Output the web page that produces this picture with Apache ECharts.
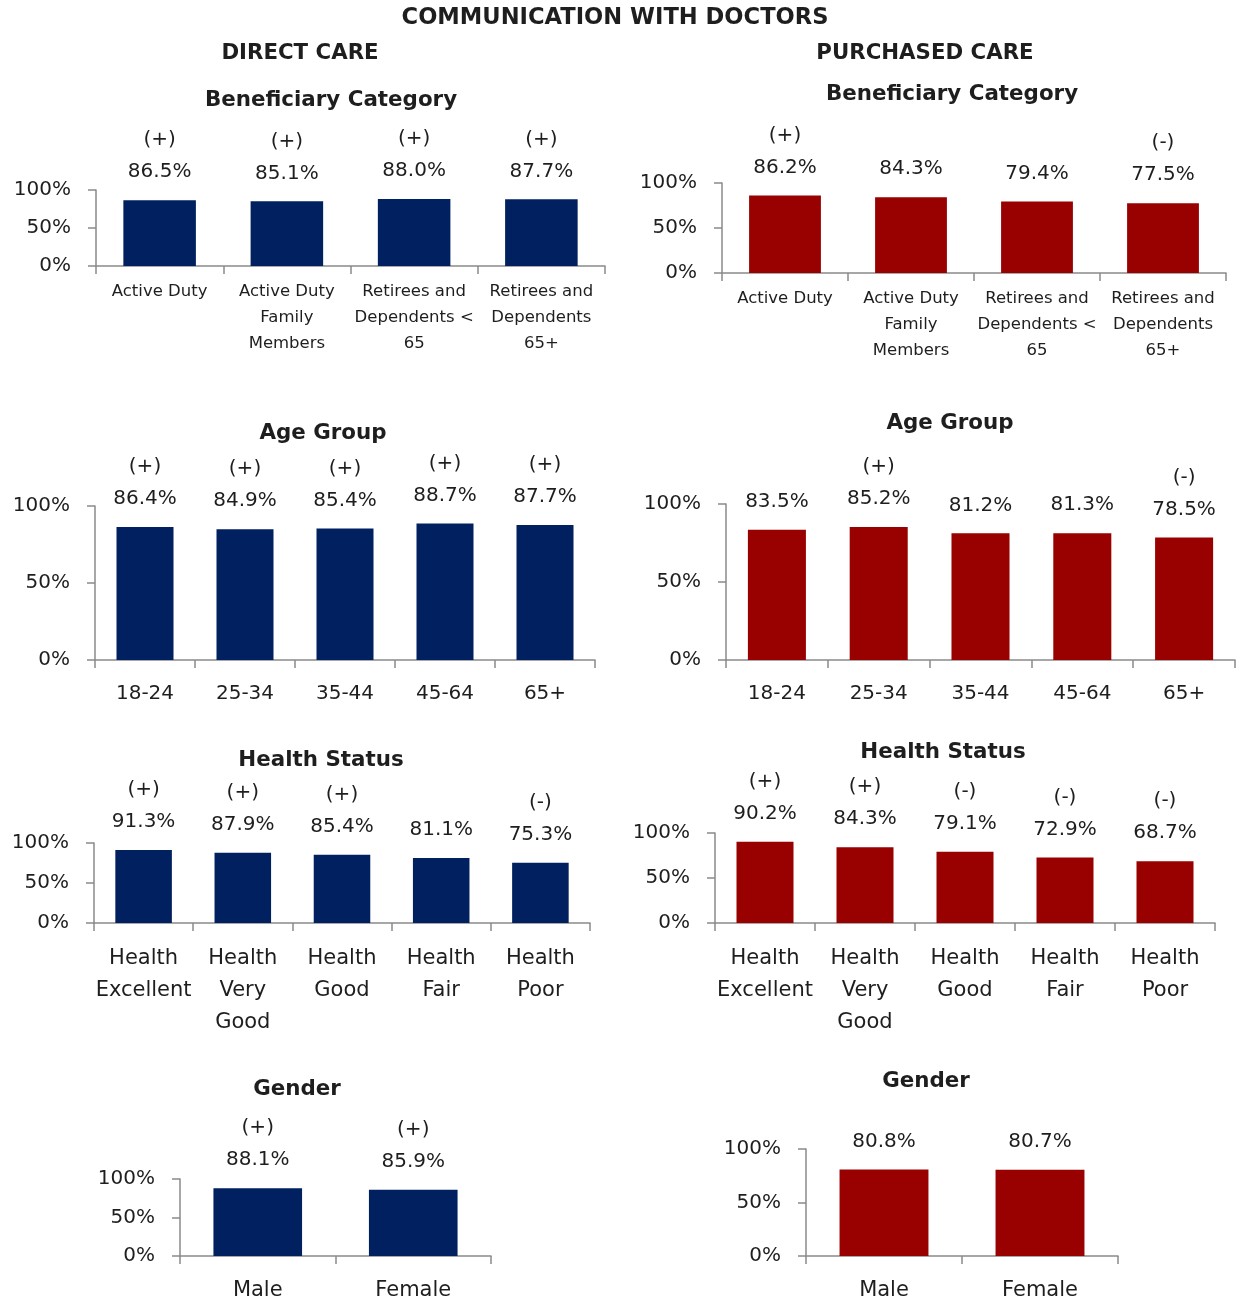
<!DOCTYPE html>
<html>
<head>
<meta charset="utf-8">
<script src="https://cdn.jsdelivr.net/npm/echarts@6/dist/echarts.min.js"></script>
<style>
  html, body { margin: 0; padding: 0; background: #fff; }
  #chart { width: 1236px; height: 1307px; }
</style>
</head>
<body>
<div id="chart"></div>
<script>
// categories
const benefCats = ['Active Duty', 'Active Duty\nFamily\nMembers', 'Retirees and\nDependents <\n65', 'Retirees and\nDependents\n65+']
const ageCats = ['18-24', '25-34', '35-44', '45-64', '65+']
const healthCats = ['Health\nExcellent', 'Health\nVery\nGood', 'Health\nGood', 'Health\nFair', 'Health\nPoor']
const genderCats = ['Male', 'Female']

// direct care (%)
const dcBenef = [86.5, 85.1, 88.0, 87.7]
const dcBenefSig = ['(+)', '(+)', '(+)', '(+)']
const dcAge = [86.4, 84.9, 85.4, 88.7, 87.7]
const dcAgeSig = ['(+)', '(+)', '(+)', '(+)', '(+)']
const dcHealth = [91.3, 87.9, 85.4, 81.1, 75.3]
const dcHealthSig = ['(+)', '(+)', '(+)', '', '(-)']
const dcGender = [88.1, 85.9]
const dcGenderSig = ['(+)', '(+)']

// purchased care (%)
const pcBenef = [86.2, 84.3, 79.4, 77.5]
const pcBenefSig = ['(+)', '', '', '(-)']
const pcAge = [83.5, 85.2, 81.2, 81.3, 78.5]
const pcAgeSig = ['', '(+)', '', '', '(-)']
const pcHealth = [90.2, 84.3, 79.1, 72.9, 68.7]
const pcHealthSig = ['(+)', '(+)', '(-)', '(-)', '(-)']
const pcGender = [80.8, 80.7]
const pcGenderSig = ['', '']

const yTickStep = 50

const NAVY = '#002060'
const RED = '#990000'
const TEXT = '#1e1e1e'
const AXIS = '#8a8a8a'
const FONT = '"DejaVu Sans", sans-serif'

// grid boxes + label styling per panel
const panels = [
  { cats: benefCats, data: dcBenef, sig: dcBenefSig, color: NAVY, box: [96, 190, 509, 76], catSize: 16.5, catLh: 26, catMargin: 13 },
  { cats: benefCats, data: pcBenef, sig: pcBenefSig, color: RED, box: [722, 183, 504, 90], catSize: 16.5, catLh: 26, catMargin: 13 },
  { cats: ageCats, data: dcAge, sig: dcAgeSig, color: NAVY, box: [95, 506, 500, 154], catSize: 20, catLh: 32, catMargin: 18 },
  { cats: ageCats, data: pcAge, sig: pcAgeSig, color: RED, box: [726, 504, 509, 156], catSize: 20, catLh: 32, catMargin: 18 },
  { cats: healthCats, data: dcHealth, sig: dcHealthSig, color: NAVY, box: [94, 843, 496, 80], catSize: 21, catLh: 32, catMargin: 20 },
  { cats: healthCats, data: pcHealth, sig: pcHealthSig, color: RED, box: [715, 833, 500, 90], catSize: 21, catLh: 32, catMargin: 20 },
  { cats: genderCats, data: dcGender, sig: dcGenderSig, color: NAVY, box: [180, 1179, 311, 81], catSize: 21, catLh: 32, catMargin: 19 },
  { cats: genderCats, data: pcGender, sig: pcGenderSig, color: RED, box: [806, 1149, 312, 111], catSize: 21, catLh: 32, catMargin: 19 }
]

const titles = [
  { text: 'COMMUNICATION WITH DOCTORS', x: 615, y: 18, size: 22.6 },
  { text: 'DIRECT CARE', x: 300, y: 53, size: 21.3 },
  { text: 'PURCHASED CARE', x: 925, y: 53, size: 21.3 },
  { text: 'Beneficiary Category', x: 331, y: 100, size: 21.4 },
  { text: 'Beneficiary Category', x: 952, y: 94, size: 21.4 },
  { text: 'Age Group', x: 323, y: 433, size: 21.4 },
  { text: 'Age Group', x: 950, y: 423, size: 21.4 },
  { text: 'Health Status', x: 321, y: 760, size: 21.4 },
  { text: 'Health Status', x: 943, y: 752, size: 21.4 },
  { text: 'Gender', x: 297, y: 1089, size: 21.4 },
  { text: 'Gender', x: 926, y: 1081, size: 21.4 }
]

const chart = echarts.init(document.getElementById('chart'))

const grid = []
const xAxis = []
const yAxis = []
const series = []

panels.forEach((p, i) => {
  grid.push({ left: p.box[0], top: p.box[1], width: p.box[2], height: p.box[3], containLabel: false })
  xAxis.push({
    type: 'category',
    gridIndex: i,
    data: p.cats,
    axisLine: { lineStyle: { color: AXIS, width: 1.5 } },
    axisTick: { show: true, length: 8, interval: 0, lineStyle: { color: AXIS, width: 1.5 } },
    axisLabel: {
      interval: 0,
      margin: p.catMargin,
      color: TEXT,
      fontFamily: FONT,
      fontSize: p.catSize,
      lineHeight: p.catLh
    }
  })
  yAxis.push({
    type: 'value',
    gridIndex: i,
    min: 0,
    max: 100,
    interval: yTickStep,
    splitLine: { show: false },
    axisLine: { show: true, lineStyle: { color: AXIS, width: 1.5 } },
    axisTick: { show: true, length: 8, lineStyle: { color: AXIS, width: 1.5 } },
    axisLabel: {
      margin: 25,
      color: TEXT,
      fontFamily: FONT,
      fontSize: 20,
      formatter: '{value}%'
    }
  })
  series.push({
    type: 'bar',
    xAxisIndex: i,
    yAxisIndex: i,
    barWidth: '57%',
    itemStyle: { color: p.color },
    data: p.data,
    silent: true,
    animation: false,
    label: {
      show: true,
      position: 'top',
      distance: 12,
      formatter: (params) => {
        const val = params.value.toFixed(1) + '%'
        const s = p.sig[params.dataIndex]
        return s ? '{s|' + s + '}\n{v|' + val + '}' : '{v|' + val + '}'
      },
      rich: {
        s: { fontFamily: FONT, fontSize: 20, lineHeight: 32, color: TEXT },
        v: { fontFamily: FONT, fontSize: 20, lineHeight: 32, color: TEXT }
      }
    }
  })
})

chart.setOption({
  backgroundColor: '#fff',
  animation: false,
  grid,
  xAxis,
  yAxis,
  series,
  graphic: titles.map(t => ({
    type: 'text',
    x: t.x,
    y: t.y,
    style: {
      text: t.text,
      fontFamily: FONT,
      fontWeight: 'bold',
      fontSize: t.size,
      fill: TEXT,
      textAlign: 'center',
      textVerticalAlign: 'middle'
    }
  }))
})
</script>
</body>
</html>
